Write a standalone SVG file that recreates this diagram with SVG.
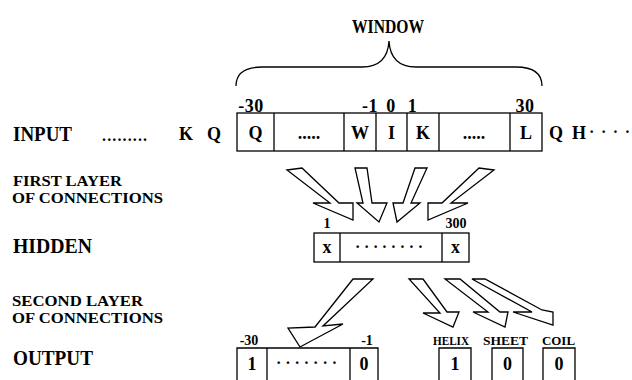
<svg xmlns="http://www.w3.org/2000/svg" width="632" height="380" viewBox="0 0 632 380">
<style>
text{font-family:"Liberation Serif","Times New Roman",serif;font-weight:bold;fill:#000}
.lbl{font-size:21px}
.sub{font-size:15px}
.cell{font-size:18px;text-anchor:middle}
.num{font-size:18px;text-anchor:middle;letter-spacing:0.5px}
.sm{font-size:14px;text-anchor:middle}
.cls{font-size:13px;text-anchor:middle}
.box{fill:none;stroke:#000;stroke-width:1.3}
.arr{fill:#fff;stroke:#000;stroke-width:1.3;stroke-linejoin:miter}
</style>
<rect width="632" height="380" fill="#fff"/>

<g id="window">
<text x="388" y="33" text-anchor="middle" font-size="19" textLength="72" lengthAdjust="spacingAndGlyphs">WINDOW</text>
<path class="box" d="M236,86 C236,74 244,67 262,67 L362,67 C380,67 388,58 389,41 C390,58 398,67 416,67 L516,67 C534,67 542,74 542,86"/>
</g>

<g id="labels">
<text class="lbl" x="13" y="141" textLength="59" lengthAdjust="spacingAndGlyphs">INPUT</text>
<text class="sub" x="13" y="186" textLength="109" lengthAdjust="spacingAndGlyphs">FIRST LAYER</text>
<text class="sub" x="12" y="203" textLength="151" lengthAdjust="spacingAndGlyphs">OF CONNECTIONS</text>
<text class="lbl" x="13" y="253" textLength="79" lengthAdjust="spacingAndGlyphs">HIDDEN</text>
<text class="sub" x="12" y="306" textLength="131" lengthAdjust="spacingAndGlyphs">SECOND LAYER</text>
<text class="sub" x="12" y="323" textLength="151" lengthAdjust="spacingAndGlyphs">OF CONNECTIONS</text>
<text class="lbl" x="13" y="365" textLength="80" lengthAdjust="spacingAndGlyphs">OUTPUT</text>
</g>

<g id="input">
<text x="102" y="141" font-size="16" textLength="45" lengthAdjust="spacing">.........</text>
<text class="cell" x="186" y="140">K</text>
<text class="cell" x="214" y="140">Q</text>
<rect class="box" x="237" y="113" width="305" height="38"/>
<path class="box" d="M274,113V151M344,113V151M376,113V151M407,113V151M439,113V151M510,113V151"/>
<text class="cell" x="255.5" y="139">Q</text>
<text class="cell" x="309" y="139" font-size="14">.....</text>
<text class="cell" x="360" y="139">W</text>
<text class="cell" x="391.5" y="139">I</text>
<text class="cell" x="423" y="139">K</text>
<text class="cell" x="474" y="139" font-size="14">.....</text>
<text class="cell" x="526" y="139">L</text>
<text class="cell" x="556" y="139">Q</text>
<text class="cell" x="579" y="139">H</text>
<text x="589" y="137" font-size="16" textLength="41" lengthAdjust="spacing">····</text>
<text class="num" x="251" y="112">-30</text>
<text class="num" x="370" y="112">-1</text>
<text class="num" x="391" y="112">0</text>
<text class="num" x="412.5" y="112">1</text>
<text class="num" x="525" y="112">30</text>
</g>

<g id="hidden">
<rect class="box" x="314" y="233" width="155" height="29"/>
<path class="box" d="M340,233V262M442,233V262"/>
<text class="cell" x="327" y="253">x</text>
<text x="355" y="252" font-size="16" textLength="68" lengthAdjust="spacing">········</text>
<text class="cell" x="455.5" y="253">x</text>
<text class="sm" x="327" y="228">1</text>
<text class="sm" x="456" y="228">300</text>
</g>

<g id="output">
<path class="box" d="M237,382V348H378V382M267,348V382M350,348V382"/>
<text class="cell" x="252" y="370">1</text>
<text x="276" y="368" font-size="16" textLength="61" lengthAdjust="spacing">·······</text>
<text class="cell" x="364" y="370">0</text>
<text class="sm" x="249" y="345">-30</text>
<text class="sm" x="367" y="345">-1</text>
</g>

<g id="helix">
<path class="box" d="M439,382V348H471V382"/>
<text class="cell" x="455" y="370">1</text>
<text class="cls" x="451" y="345" textLength="36" lengthAdjust="spacingAndGlyphs">HELIX</text>
</g>
<g id="sheet">
<path class="box" d="M492,382V348H523V382"/>
<text class="cell" x="507.5" y="370">0</text>
<text class="cls" x="505.5" y="345" textLength="45" lengthAdjust="spacingAndGlyphs">SHEET</text>
</g>
<g id="coil">
<path class="box" d="M543,382V348H575V382"/>
<text class="cell" x="559" y="370">0</text>
<text class="cls" x="558.5" y="345" textLength="33" lengthAdjust="spacingAndGlyphs">COIL</text>
</g>

<g id="connectors">
<polygon class="arr" points="287,170 302,168 339,203 353,203 353,220 313,203 330,203"/>
<polygon class="arr" points="355,168 367,168 372,203 387,203 379,222 357,203 363,203"/>
<polygon class="arr" points="415,168 427,168 411,203 420,203 397,222 393,203 403,203"/>
<polygon class="arr" points="494,170 479,168 442,203 428,203 428,220 468,203 451,203"/>
<polygon class="arr" points="353,279 373,279 323,326 343,324 300,347 288,328 315,327"/>
<polygon class="arr" points="409,279 423,279 447,312 459,312 453,327 423,313 440,313"/>
<polygon class="arr" points="445,279 460,279 500,312 508,312 505,327 473,312 488,312"/>
<polygon class="arr" points="472,279 485,279 542,310 553,312 553,325 513,312 532,312"/>
</g>
</svg>
